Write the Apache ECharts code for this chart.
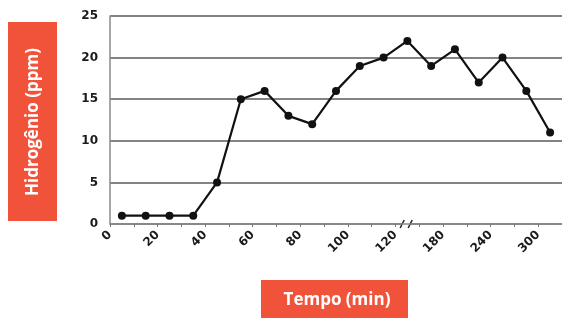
<!DOCTYPE html>
<html>
<head>
<meta charset="utf-8">
<script src="https://cdn.jsdelivr.net/npm/echarts@6/dist/echarts.min.js"></script>
<style>
  html, body { margin: 0; padding: 0; background: #fff; }
  #chart { width: 562px; height: 318px; }
</style>
</head>
<body>
<div id="chart"></div>
<script>
// tick labels of the time axis (one per tick, break between 120 and 180)
var xTickLabels = ["0", "", "20", "", "40", "", "60", "", "80", "", "100", "", "120", "", "180", "", "240", "", "300", ""];
// hydrogen readings, one per interval between ticks
var hidrogenio = [1, 1, 1, 1, 5, 15, 16, 13, 12, 16, 19, 20, 22, 19, 21, 17, 20, 16, 11];
var yTicks = [0, 5, 10, 15, 20, 25];

var chart = echarts.init(document.getElementById("chart"));

// each reading sits in the middle of its interval
var pontos = hidrogenio.map(function (v, i) {
  return [i + 0.5, v];
});

var labelFont = {
  color: "#1a1a1a",
  fontFamily: "DejaVu Sans",
  fontWeight: "bold",
  fontSize: 12,
};

var option = {
  animation: false,
  grid: {
    left: 110,
    right: -7,
    top: 16,
    bottom: 94,
  },
  xAxis: {
    type: "value",
    min: 0,
    max: xTickLabels.length - 1,
    interval: 1,
    axisLine: { show: true, lineStyle: { color: "#8a8a8a", width: 1.5 } },
    axisTick: { show: true, length: 3, lineStyle: { color: "#777" } },
    splitLine: { show: false },
    axisLabel: Object.assign({
      rotate: 45,
      margin: 9,
      showMaxLabel: false,
      formatter: function (v) {
        return xTickLabels[Math.round(v)] || "";
      },
    }, labelFont),
  },
  yAxis: {
    type: "value",
    min: yTicks[0],
    max: yTicks[yTicks.length - 1],
    interval: 5,
    axisLine: { show: true, lineStyle: { color: "#8a8a8a", width: 1.5 } },
    axisTick: { show: false },
    splitLine: { show: true, lineStyle: { color: "#5a5a5a", width: 1.5 } },
    axisLabel: Object.assign({ margin: 12, fontSize: 13 }, labelFont),
  },
  series: [
    {
      name: "Hidrogênio",
      type: "line",
      symbol: "circle",
      symbolSize: 8,
      lineStyle: { color: "#111", width: 2.2 },
      itemStyle: { color: "#111" },
      data: pontos,
    },
  ],
};
chart.setOption(option);

// axis break mark + the two orange title boxes
var brk = chart.convertToPixel({ xAxisIndex: 0, yAxisIndex: 0 }, [12.45, 0]);
chart.setOption({
  graphic: [
    {
      type: "rect",
      shape: { x: brk[0] - 4, y: brk[1] - 3, width: 8, height: 6 },
      style: { fill: "#fff" },
    },
    {
      type: "line",
      shape: { x1: brk[0] - 6, y1: brk[1] + 4, x2: brk[0] - 2, y2: brk[1] - 4 },
      style: { stroke: "#222", lineWidth: 1.5 },
    },
    {
      type: "line",
      shape: { x1: brk[0] + 2, y1: brk[1] + 4, x2: brk[0] + 6, y2: brk[1] - 4 },
      style: { stroke: "#222", lineWidth: 1.5 },
    },
    {
      type: "rect",
      shape: { x: 8, y: 22, width: 49, height: 199 },
      style: { fill: "#F0533A" },
    },
    {
      type: "text",
      x: 33,
      y: 122,
      rotation: Math.PI / 2,
      style: {
        text: "Hidrogênio (ppm)",
        fill: "#fff",
        font: "bold 17px 'Open Sans', 'DejaVu Sans'",
        align: "center",
        verticalAlign: "middle",
      },
    },
    {
      type: "rect",
      shape: { x: 261, y: 280, width: 147, height: 40 },
      style: { fill: "#F0533A" },
    },
    {
      type: "text",
      x: 337,
      y: 300,
      style: {
        text: "Tempo (min)",
        fill: "#fff",
        font: "bold 17px 'Open Sans', 'DejaVu Sans'",
        align: "center",
        verticalAlign: "middle",
      },
    },
  ],
});

window.addEventListener("resize", function () {
  chart.resize();
});
</script>
</body>
</html>
